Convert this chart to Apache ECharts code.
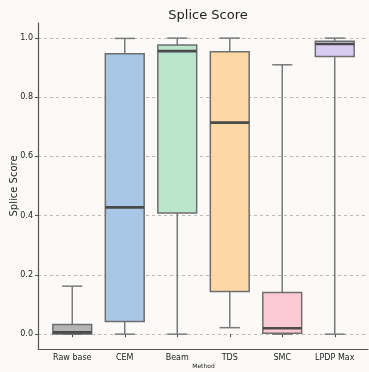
<!DOCTYPE html>
<html><head><meta charset="utf-8">
<script src="https://cdn.jsdelivr.net/npm/echarts@6/dist/echarts.min.js"></script>
<style>html,body{margin:0;padding:0;background:#fbfaf8;}#c{width:369px;height:372px;}</style>
</head><body><div id="c"></div>
<script>
const categories = ['Raw base', 'CEM', 'Beam', 'TDS', 'SMC', 'LPDP Max'];
const mins    = [0.000, 0.000, 0.000, 0.022, 0.000, 0.000];
const q1s     = [0.001, 0.043, 0.409, 0.144, 0.003, 0.937];
const medians = [0.006, 0.428, 0.955, 0.714, 0.020, 0.979];
const q3s     = [0.033, 0.946, 0.976, 0.953, 0.141, 0.988];
const maxs    = [0.162, 0.998, 0.999, 0.999, 0.909, 0.999];
const yTicks  = [0.0, 0.2, 0.4, 0.6, 0.8, 1.0];
const palette = ['#b4b4b4', '#a8c6e5', '#bbe5ca', '#fdd8a6', '#fdc9d5', '#d9ccf3'];

const data = categories.map((c, i) => [i, mins[i], q1s[i], medians[i], q3s[i], maxs[i]]);
const FONT = 'DejaVu Sans';

const chart = echarts.init(document.getElementById('c'), null, {renderer: 'canvas'});
chart.setOption({
  backgroundColor: '#fbfaf8',
  animation: false,
  title: {text: 'Splice Score', left: 203, textAlign: 'center', top: 4,
    textStyle: {fontFamily: FONT, fontSize: 13, fontWeight: 'normal', color: '#222'}},
  grid: [
    {left: 46, right: 8, top: 23, bottom: 23, outerBoundsMode: 'none', containLabel: false},
    {left: 38, right: 1, top: 23, bottom: 23, outerBoundsMode: 'none', containLabel: false}
  ],
  xAxis: [
    {type: 'category', gridIndex: 0, data: categories,
     axisLine: {show: false},
     axisTick: {show: true, alignWithLabel: true, length: 3, lineStyle: {color: '#444', width: 1}},
     axisLabel: {fontFamily: FONT, fontSize: 8, color: '#222', margin: 5},
     name: 'Method', nameLocation: 'middle', nameGap: 14, nameMoveOverlap: false,
     nameTextStyle: {fontFamily: FONT, fontSize: 6, color: '#222'}},
    {type: 'value', gridIndex: 1, min: 0, max: 1,
     axisLine: {show: true, onZero: false, lineStyle: {color: '#555', width: 1.2}},
     axisTick: {show: false}, axisLabel: {show: false}, splitLine: {show: false}}
  ],
  yAxis: [
    {type: 'value', gridIndex: 0, min: -0.05, max: 1.05, show: false, splitLine: {show: false}},
    {type: 'value', gridIndex: 1, min: -0.05, max: 1.05,
     axisLine: {show: true, onZero: false, lineStyle: {color: '#555', width: 1.2}},
     axisTick: {show: true, length: 3, customValues: yTicks, lineStyle: {color: '#555'}},
     axisLabel: {customValues: yTicks, fontFamily: FONT, fontSize: 8, color: '#222', margin: 5,
       formatter: v => Number(v).toFixed(1)},
     splitLine: {show: true, lineStyle: {color: '#aaa', type: [3, 3], width: 0.8}},
     name: 'Splice Score', nameLocation: 'middle', nameGap: 19, nameRotate: 90, nameMoveOverlap: false,
     nameTextStyle: {fontFamily: FONT, fontSize: 10, color: '#222'}}
  ],
  series: [{
    type: 'custom',
    xAxisIndex: 0, yAxisIndex: 0,
    data: data,
    encode: {x: 0, y: [1, 2, 3, 4, 5]},
    renderItem: function (params, api) {
      const i = api.value(0);
      const band = api.size([1, 0])[0];
      const bw = band * 0.74;
      const cw = bw * 0.52;
      const pMin = api.coord([i, api.value(1)]);
      const pQ1 = api.coord([i, api.value(2)]);
      const pMed = api.coord([i, api.value(3)]);
      const pQ3 = api.coord([i, api.value(4)]);
      const pMax = api.coord([i, api.value(5)]);
      const cx = pMed[0];
      const wStyle = {stroke: '#7a7a7a', lineWidth: 1.5, fill: null};
      return {type: 'group', children: [
        {type: 'line', shape: {x1: cx, y1: pQ1[1], x2: cx, y2: pMin[1]}, style: wStyle},
        {type: 'line', shape: {x1: cx, y1: pQ3[1], x2: cx, y2: pMax[1]}, style: wStyle},
        {type: 'line', shape: {x1: cx - cw / 2, y1: pMin[1], x2: cx + cw / 2, y2: pMin[1]}, style: wStyle},
        {type: 'line', shape: {x1: cx - cw / 2, y1: pMax[1], x2: cx + cw / 2, y2: pMax[1]}, style: wStyle},
        {type: 'rect', shape: {x: cx - bw / 2, y: pQ3[1], width: bw, height: pQ1[1] - pQ3[1]},
          style: {fill: palette[i], stroke: '#6e6e6e', lineWidth: 1.5}},
        {type: 'line', shape: {x1: cx - bw / 2, y1: pMed[1], x2: cx + bw / 2, y2: pMed[1]},
          style: {stroke: '#4a4a4a', lineWidth: 2.6}}
      ]};
    }
  }]
});
</script></body></html>
